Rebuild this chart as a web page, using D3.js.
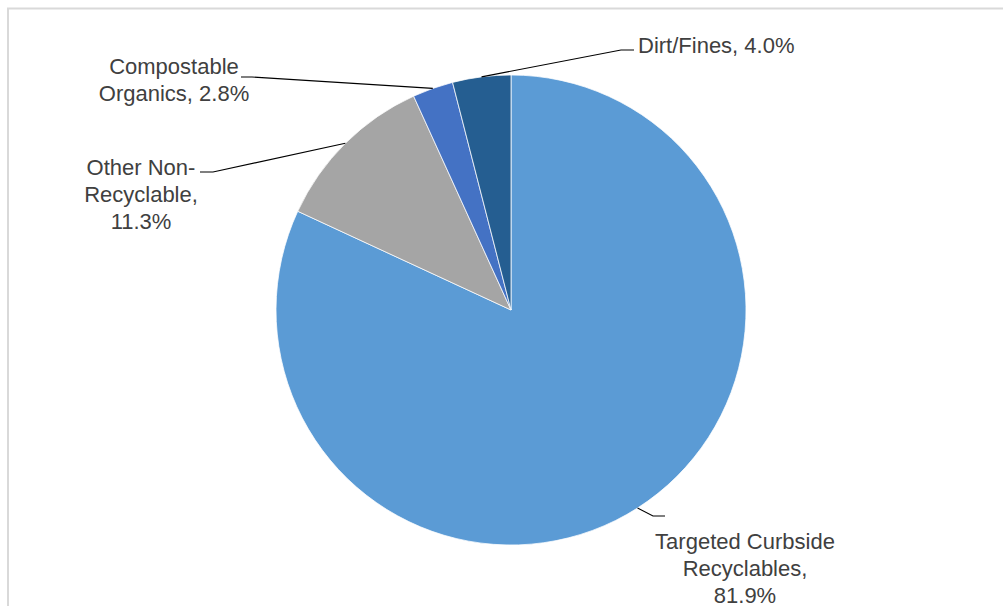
<!DOCTYPE html>
<html>
<head>
<meta charset="utf-8">
<script src="https://cdn.jsdelivr.net/npm/d3@7/dist/d3.min.js"></script>
<style>
  html, body { margin: 0; padding: 0; background: #ffffff; }
  svg { display: block; }
  text { font-family: "Liberation Sans", Arial, sans-serif; }
</style>
</head>
<body>
<svg id="chart" width="1003" height="606"></svg>
<script>
// Composition of curbside material (share of total, %)
const categories = [
  "Targeted Curbside Recyclables",
  "Other Non-Recyclable",
  "Compostable Organics",
  "Dirt/Fines"
];
const shares = [81.9, 11.3, 2.8, 4.0];
const labelLines = [
  ["Targeted Curbside", "Recyclables,", "81.9%"],
  ["Other Non-", "Recyclable,", "11.3%"],
  ["Compostable", "Organics, 2.8%"],
  ["Dirt/Fines, 4.0%"]
];
const sliceColors = ["#5B9BD5", "#A5A5A5", "#4472C4", "#255E91"];

// Label placement (layout only)
const labelLayout = [
  { x: 745, y: 549, anchor: "middle", elbow: [653, 516], end: [665, 516] },
  { x: 141, y: 175, anchor: "middle", elbow: [213, 172], end: [200, 172] },
  { x: 174, y: 74,  anchor: "middle", elbow: [252, 77],  end: [241, 77] },
  { x: 638, y: 53,  anchor: "start",  elbow: [621, 50],  end: [634, 50] }
];

const svg = d3.select("#chart");
const W = 1003, H = 606;
const cx = 511, cy = 310, R = 235;
const lineH = 27;

// chart-area frame
svg.append("rect")
  .attr("x", 8).attr("y", 8.5)
  .attr("width", W + 20).attr("height", H + 20)
  .attr("fill", "#ffffff")
  .attr("stroke", "#d9d9d9")
  .attr("stroke-width", 2);

const data = categories.map((c, i) => ({ name: c, value: shares[i], i }));

const pie = d3.pie().value(d => d.value).sort(null)
  .startAngle(0).endAngle(2 * Math.PI);
const arcs = pie(data);

const arc = d3.arc().innerRadius(0).outerRadius(R);

const g = svg.append("g").attr("transform", `translate(${cx},${cy})`);

g.selectAll("path.slice")
  .data(arcs)
  .join("path")
  .attr("class", "slice")
  .attr("d", arc)
  .attr("fill", d => sliceColors[d.data.i])
  .attr("stroke", "#ffffff")
  .attr("stroke-width", 0.75);

// leader lines from each slice's outer edge to its label
const edgePoint = a => {
  const m = (a.startAngle + a.endAngle) / 2;
  return [cx + R * Math.sin(m), cy - R * Math.cos(m)];
};

svg.append("g").selectAll("polyline")
  .data(arcs)
  .join("polyline")
  .attr("points", d => {
    const L = labelLayout[d.data.i];
    return [edgePoint(d), L.elbow, L.end].map(p => p.join(",")).join(" ");
  })
  .attr("fill", "none")
  .attr("stroke", "#000000")
  .attr("stroke-width", 1.1);

// data labels
const labels = svg.append("g").selectAll("text")
  .data(arcs)
  .join("text")
  .attr("x", d => labelLayout[d.data.i].x)
  .attr("y", d => labelLayout[d.data.i].y)
  .attr("text-anchor", d => labelLayout[d.data.i].anchor)
  .attr("font-size", 22)
  .attr("fill", "#404040");

labels.each(function(d) {
  const L = labelLayout[d.data.i];
  d3.select(this).selectAll("tspan")
    .data(labelLines[d.data.i])
    .join("tspan")
    .attr("x", L.x)
    .attr("dy", (t, k) => k === 0 ? 0 : lineH)
    .text(t => t);
});
</script>
</body>
</html>
